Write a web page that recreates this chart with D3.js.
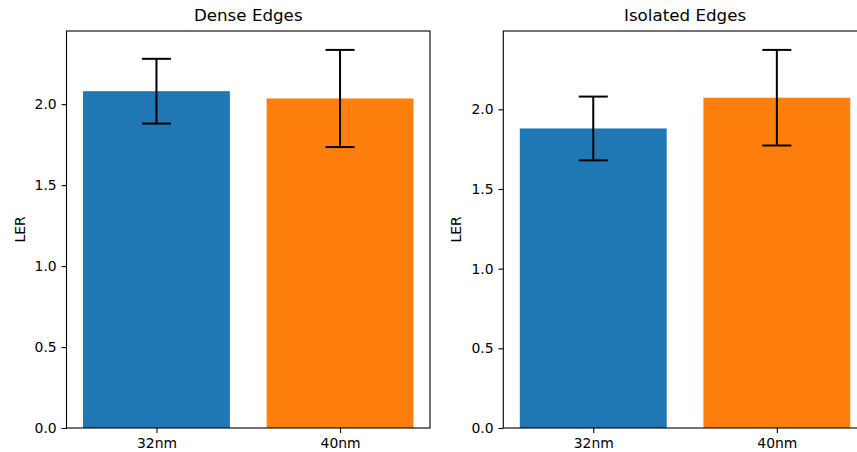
<!DOCTYPE html>
<html>
<head>
<meta charset="utf-8">
<script src="https://cdn.jsdelivr.net/npm/d3@7"></script>
<style>
  body { margin: 0; background: #fff; }
  svg text { font-family: "DejaVu Sans", sans-serif; fill: #000; }
</style>
</head>
<body>
<div id="chart"></div>
<script>
// values
const categories = ["32nm", "40nm"];
const denseMeans = [2.08, 2.035];
const denseErrors = [0.20, 0.30];
const isolatedMeans = [1.88, 2.073];
const isolatedErrors = [0.20, 0.30];
const yTicks = [0, 0.5, 1.0, 1.5, 2.0];
const barColors = ["#1f77b4", "#ff7f0e"];

const panels = [
  { title: "Dense Edges", means: denseMeans, errors: denseErrors, left: 66.5 },
  { title: "Isolated Edges", means: isolatedMeans, errors: isolatedErrors, left: 503.3 }
];

const W = 857, H = 452;
const plotW = 363.5, plotTop = 31, plotBottom = 428;
const capHalf = 14.5;

const svg = d3.select("#chart").append("svg")
  .attr("width", W)
  .attr("height", H);

panels.forEach(p => {
  const g = svg.append("g").attr("transform", `translate(${p.left},0)`);

  // x domain like matplotlib: bars of width 0.8 plus 5% margins
  const x = d3.scaleLinear().domain([-0.49, 1.49]).range([0, plotW]);
  const yMax = d3.max(p.means, (m, i) => m + p.errors[i]) * 1.05;
  const y = d3.scaleLinear().domain([0, yMax]).range([plotBottom, plotTop]);

  // bars
  g.selectAll(".bar")
    .data(p.means)
    .enter().append("rect")
      .attr("class", "bar")
      .attr("x", (d, i) => x(i - 0.4))
      .attr("width", x(0.8) - x(0))
      .attr("y", d => y(d))
      .attr("height", d => y(0) - y(d))
      .attr("fill", (d, i) => barColors[i]);

  // error bars
  const err = g.selectAll(".err")
    .data(p.means)
    .enter().append("g")
      .attr("class", "err")
      .attr("stroke", "#000")
      .attr("stroke-width", 2);
  err.append("line")
    .attr("x1", (d, i) => x(i)).attr("x2", (d, i) => x(i))
    .attr("y1", (d, i) => y(d - p.errors[i]))
    .attr("y2", (d, i) => y(d + p.errors[i]));
  [-1, 1].forEach(s => {
    err.append("line")
      .attr("x1", (d, i) => x(i) - capHalf).attr("x2", (d, i) => x(i) + capHalf)
      .attr("y1", (d, i) => y(d + s * p.errors[i]))
      .attr("y2", (d, i) => y(d + s * p.errors[i]));
  });

  // frame
  g.append("rect")
    .attr("x", 0).attr("y", plotTop)
    .attr("width", plotW).attr("height", plotBottom - plotTop)
    .attr("fill", "none")
    .attr("stroke", "#000")
    .attr("stroke-width", 1.1);

  // axes
  const yAxis = g.append("g")
    .call(d3.axisLeft(y).tickValues(yTicks).tickFormat(d3.format(".1f")).tickSizeOuter(0).tickSize(4.9).tickPadding(4.9));
  yAxis.select(".domain").remove();
  yAxis.selectAll("text").style("font-size", "13.9px");

  const xAxis = g.append("g")
    .attr("transform", `translate(0,${plotBottom})`)
    .call(d3.axisBottom(x).tickValues([0, 1]).tickFormat((d) => categories[d]).tickSizeOuter(0).tickSize(4.9).tickPadding(4.9));
  xAxis.select(".domain").remove();
  xAxis.selectAll("text").style("font-size", "13.9px");
  svg.selectAll(".tick line").attr("stroke", "#000").attr("stroke-width", 1.1);

  // y label
  g.append("text")
    .attr("transform", `translate(-42,${(plotTop + plotBottom) / 2}) rotate(-90)`)
    .attr("text-anchor", "middle")
    .style("font-size", "13.9px")
    .text("LER");

  // title
  g.append("text")
    .attr("x", plotW / 2)
    .attr("y", 21)
    .attr("text-anchor", "middle")
    .style("font-size", "16.7px")
    .text(p.title);
});
</script>
</body>
</html>
